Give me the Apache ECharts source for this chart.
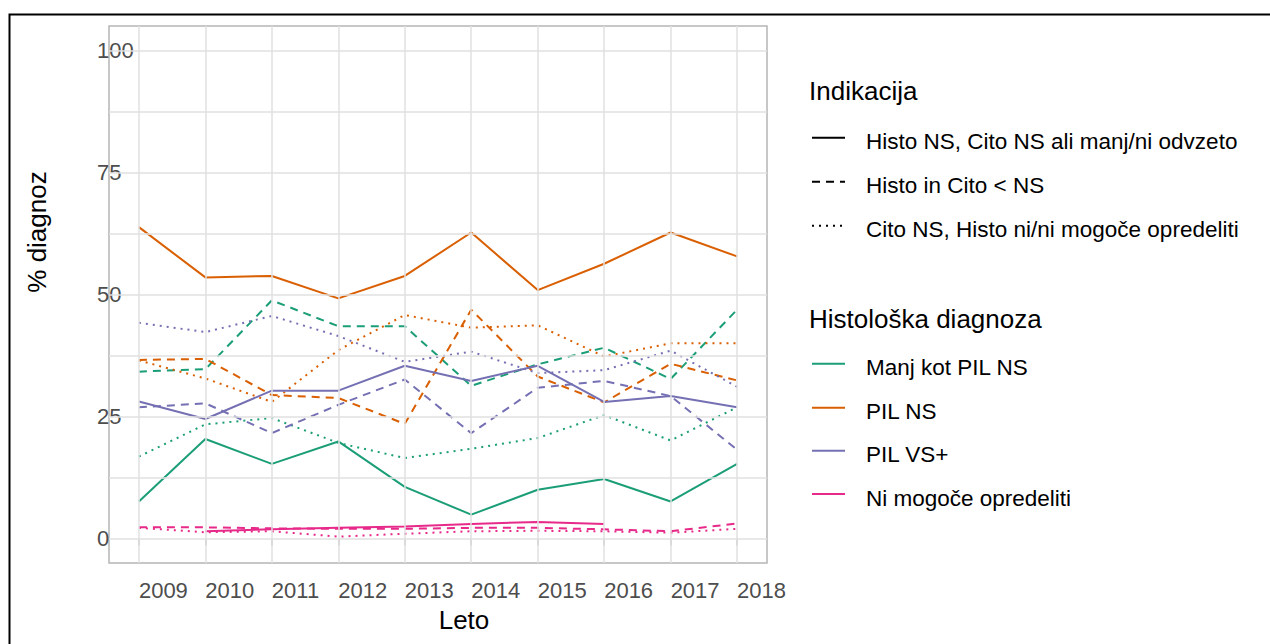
<!DOCTYPE html>
<html>
<head>
<meta charset="utf-8">
<script src="https://cdn.jsdelivr.net/npm/echarts@6/dist/echarts.min.js"></script>
<style>
html,body{margin:0;padding:0;background:#fff;}
#chart{width:1270px;height:644px;}
</style>
</head>
<body>
<div id="chart"></div>
<script>
const years = [2009, 2010, 2011, 2012, 2013, 2014, 2015, 2016, 2017, 2018];
const yTicks = [0, 25, 50, 75, 100];
const yMinorGrid = [12.5, 37.5, 62.5, 87.5];

// Manj kot PIL NS
const manjSolid = [7.6, 20.4, 15.3, 19.9, 10.6, 4.9, 10.0, 12.2, 7.6, 15.3];
const manjDash  = [34.2, 34.7, 48.8, 43.5, 43.5, 31.3, 35.7, 39.1, 32.7, 46.9];
const manjDot   = [16.8, 23.4, 24.7, 19.6, 16.5, 18.4, 20.6, 25.3, 20.1, 26.9];
// PIL NS
const pilnsSolid = [63.8, 53.5, 53.8, 49.2, 53.8, 62.7, 50.9, 56.3, 62.7, 57.8];
const pilnsDash  = [36.6, 36.8, 29.4, 28.8, 23.5, 46.9, 33.2, 27.9, 35.8, 32.4];
const pilnsDot   = [36.5, 32.8, 28.0, 38.6, 45.8, 43.2, 43.7, 37.3, 40.0, 40.0];
// PIL VS+
const pilvsSolid = [28.1, 24.5, 30.3, 30.3, 35.4, 32.3, 35.4, 28.0, 29.2, 26.9];
const pilvsDash  = [26.9, 27.7, 21.6, 27.4, 32.6, 21.6, 30.9, 32.3, 29.2, 18.2];
const pilvsDot   = [44.2, 42.3, 45.6, 41.5, 36.2, 38.3, 33.9, 34.5, 38.5, 31.1];
// Ni mogoče opredeliti
const niSolid = [null, 1.5, 1.9, 2.2, 2.5, 3.0, 3.4, 3.0, null, null];
const niDash  = [2.3, 2.3, 2.1, 2.0, 2.0, 2.2, 2.2, 1.9, 1.5, 3.1];
const niDot   = [2.2, 1.3, 1.5, 0.4, 1.0, 1.5, 1.6, 1.5, 1.2, 2.0];

const diagNames = ['Manj kot PIL NS', 'PIL NS', 'PIL VS+', 'Ni mogoče opredeliti'];
const indNames = ['Histo NS, Cito NS ali manj/ni odvzeto', 'Histo in Cito < NS', 'Cito NS, Histo ni/ni mogoče opredeliti'];
const diagColors = ['#1B9E77', '#D95F02', '#7570B3', '#E7298A'];
const diagData = [
  [manjSolid, manjDash, manjDot],
  [pilnsSolid, pilnsDash, pilnsDot],
  [pilvsSolid, pilvsDash, pilvsDot],
  [niSolid, niDash, niDot]
];

const FONT = '"Liberation Sans", Arial, sans-serif';
const LW = 2;
const dashes = [null, [8, 6], [2, 5]];

const series = [];
series.push({
  type: 'line', data: [], silent: true, z: 1,
  markLine: {
    silent: true, symbol: 'none', animation: false,
    label: { show: false },
    lineStyle: { color: '#e0e0e0', width: 1.5, type: 'solid' },
    data: years.map(y => ({ xAxis: y }))
      .concat(yTicks.map(v => ({ yAxis: v })))
      .concat(yMinorGrid.map(v => ({ yAxis: v })))
  }
});
diagData.forEach((arrs, di) => {
  arrs.forEach((arr, ti) => {
    series.push({
      name: diagNames[di] + ' / ' + indNames[ti],
      type: 'line',
      z: 3,
      data: years.map((y, i) => [y, arr[i]]),
      showSymbol: false,
      symbol: 'none',
      connectNulls: false,
      lineStyle: {
        color: diagColors[di],
        width: LW,
        type: dashes[ti] || 'solid'
      },
      itemStyle: { color: diagColors[di] },
      animation: false
    });
  });
});

const graphic = [];
graphic.push({
  type: 'rect', left: 7, top: 12, z: 100, silent: true,
  shape: { x: 0, y: 0, width: 1300, height: 700 },
  style: { fill: 'none', stroke: '#000', lineWidth: 2 }
});
graphic.push({
  type: 'text', x: 37, y: 232, rotation: Math.PI / 2,
  style: { text: '% diagnoz', font: '26px ' + FONT, fill: '#000', textAlign: 'center', textVerticalAlign: 'middle' }
});
graphic.push({
  type: 'text', x: 464, y: 620,
  style: { text: 'Leto', font: '26px ' + FONT, fill: '#000', textAlign: 'center', textVerticalAlign: 'middle' }
});
const legX = 809, lineX1 = 812, lineX2 = 845, textX = 866;
graphic.push({
  type: 'text', x: legX, y: 91,
  style: { text: 'Indikacija', font: '26px ' + FONT, fill: '#000', textAlign: 'left', textVerticalAlign: 'middle' }
});
const indY = [137.7, 181.7, 225.7];
indNames.forEach((n, i) => {
  graphic.push({
    type: 'line', shape: { x1: lineX1, y1: indY[i], x2: lineX2, y2: indY[i] },
    style: { stroke: '#000', lineWidth: LW, lineDash: dashes[i] || null }
  });
  graphic.push({
    type: 'text', x: textX, y: indY[i] + 4,
    style: { text: n, font: '22.5px ' + FONT, fill: '#000', textAlign: 'left', textVerticalAlign: 'middle' }
  });
});
graphic.push({
  type: 'text', x: legX, y: 319,
  style: { text: 'Histološka diagnoza', font: '26px ' + FONT, fill: '#000', textAlign: 'left', textVerticalAlign: 'middle' }
});
const diagY = [363.7, 407.7, 450.7, 494];
diagNames.forEach((n, i) => {
  graphic.push({
    type: 'line', shape: { x1: lineX1, y1: diagY[i], x2: lineX2, y2: diagY[i] },
    style: { stroke: diagColors[i], lineWidth: LW }
  });
  graphic.push({
    type: 'text', x: textX, y: diagY[i] + 4,
    style: { text: n, font: '22.5px ' + FONT, fill: '#000', textAlign: 'left', textVerticalAlign: 'middle' }
  });
});

const chart = echarts.init(document.getElementById('chart'), null, { renderer: 'svg' });
chart.setOption({
  backgroundColor: '#fff',
  animation: false,
  textStyle: { fontFamily: FONT },
  grid: {
    left: 109, top: 26, width: 658, height: 537,
    show: true, borderColor: '#b5b5b5', borderWidth: 1.5, backgroundColor: '#fff', z: 0
  },
  xAxis: {
    type: 'value', min: 2008.55, max: 2018.45,
    axisLine: { show: false },
    splitLine: { show: false },
    axisTick: { show: true, length: 7, customValues: years, lineStyle: { color: '#b5b5b5', width: 1.5 } },
    axisLabel: {
      customValues: years, align: 'left', margin: 16,
      fontSize: 22, color: '#4d4d4d', fontFamily: FONT,
      formatter: v => String(v)
    }
  },
  yAxis: {
    type: 'value', min: -5, max: 105,
    axisLine: { show: false },
    splitLine: { show: false },
    axisTick: { show: false },
    axisLabel: {
      customValues: yTicks, align: 'left', margin: 12,
      fontSize: 22, color: '#4d4d4d', fontFamily: FONT,
      formatter: v => String(v)
    }
  },
  series: series,
  graphic: graphic
});
</script>
</body>
</html>
